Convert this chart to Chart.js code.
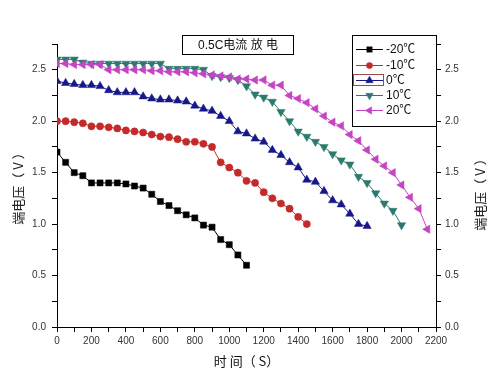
<!DOCTYPE html>
<html>
<head>
<meta charset="utf-8">
<script src="https://cdn.jsdelivr.net/npm/chart.js@4/dist/chart.umd.min.js"></script>
<style>
  html, body { margin: 0; padding: 0; background: #fff; }
  #wrap { width: 500px; height: 383px; }
</style>
</head>
<body>
<div id="wrap"><canvas id="dischargeChart" width="500" height="383"></canvas></div>
<script>
'use strict';

// time axis (s) shared by all series
var times = [0, 50, 100, 150, 200, 250, 300, 350, 400, 450, 500, 550, 600, 650, 700, 750,
  800, 850, 900, 950, 1000, 1050, 1100, 1150, 1200, 1250, 1300, 1350, 1400, 1450, 1500,
  1550, 1600, 1650, 1700, 1750, 1800, 1850, 1900, 1950, 2000, 2050, 2100, 2150];

// terminal voltage (V) per temperature
var voltM20 = [1.70, 1.60, 1.50, 1.47, 1.40, 1.40, 1.40, 1.40, 1.39, 1.37, 1.35, 1.29,
  1.22, 1.18, 1.13, 1.09, 1.06, 0.99, 0.97, 0.85, 0.80, 0.70, 0.60];
var voltM10 = [2.00, 2.00, 1.99, 1.98, 1.95, 1.95, 1.94, 1.93, 1.91, 1.90, 1.89, 1.87,
  1.85, 1.845, 1.825, 1.80, 1.80, 1.78, 1.75, 1.60, 1.55, 1.50, 1.42, 1.40, 1.31, 1.25,
  1.20, 1.15, 1.07, 1.00];
var volt0 = [2.39, 2.37, 2.36, 2.35, 2.35, 2.34, 2.30, 2.28, 2.28, 2.28, 2.24, 2.22,
  2.21, 2.21, 2.20, 2.19, 2.15, 2.12, 2.10, 2.05, 2.00, 1.90, 1.88, 1.83, 1.80, 1.72,
  1.67, 1.60, 1.55, 1.43, 1.41, 1.32, 1.23, 1.19, 1.10, 1.00, 0.98];
var voltP10 = [2.60, 2.60, 2.60, 2.57, 2.56, 2.56, 2.56, 2.56, 2.56, 2.56, 2.56, 2.56,
  2.56, 2.51, 2.51, 2.51, 2.51, 2.50, 2.44, 2.43, 2.42, 2.40, 2.34, 2.26, 2.23, 2.19,
  2.09, 2.00, 1.90, 1.85, 1.80, 1.75, 1.68, 1.62, 1.58, 1.46, 1.40, 1.30, 1.20, 1.13, 0.99];
var voltP20 = [2.56, 2.56, 2.55, 2.55, 2.55, 2.55, 2.50, 2.50, 2.50, 2.50, 2.50, 2.49,
  2.49, 2.48, 2.48, 2.48, 2.47, 2.46, 2.45, 2.44, 2.43, 2.41, 2.41, 2.40, 2.40, 2.35,
  2.35, 2.25, 2.22, 2.18, 2.12, 2.05, 1.99, 1.955, 1.87, 1.81, 1.72, 1.63, 1.565, 1.50,
  1.38, 1.26, 1.15, 0.95];

var seriesLabels = ['-20℃', '-10℃', '0℃', '10℃', '20℃'];
var seriesValues = [voltM20, voltM10, volt0, voltP10, voltP20];
var seriesColors = ['#000000', '#c42a2a', '#17178a', '#2c7a6e', '#c444c4'];
var seriesStyles = ['rect', 'circle', 'triangle', 'triangle', 'triangle'];
var seriesRotation = [0, 0, 0, 180, 270];
var seriesRadius = [4.3, 3.6, 4.8, 4.8, 4.8];

var chartTitle = '0.5C电流 放 电';
var xTitle = '时 间（ S）';
var yTitle = '端电压（ V ）';

function pairUp(vals) {
  var out = [];
  for (var i = 0; i < vals.length; i++) out.push({ x: times[i], y: vals[i] });
  return out;
}

var datasets = seriesValues.map(function (vals, i) {
  return {
    label: seriesLabels[i],
    data: pairUp(vals),
    borderColor: seriesColors[i],
    backgroundColor: seriesColors[i],
    borderWidth: 1,
    pointStyle: seriesStyles[i],
    rotation: seriesRotation[i],
    pointRadius: seriesRadius[i],
    pointBorderWidth: 0.5,
    pointBackgroundColor: seriesColors[i],
    pointBorderColor: seriesColors[i],
    tension: 0,
    order: 5 - i
  };
});

var CJK = '"Liberation Sans", Arial, "Noto Sans CJK SC", sans-serif';

function drawMarker(ctx, i, x, y) {
  var h = Chart.helpers;
  if (h && h.drawPoint) {
    ctx.fillStyle = seriesColors[i];
    ctx.strokeStyle = seriesColors[i];
    ctx.lineWidth = 0.5;
    h.drawPoint(ctx, { pointStyle: seriesStyles[i], rotation: seriesRotation[i], radius: seriesRadius[i] - 0.5, borderWidth: 0.5 }, x, y);
  }
}

var decorPlugin = {
  id: 'decor',
  afterDraw: function (chart) {
    var ctx = chart.ctx;
    var area = chart.chartArea;
    ctx.save();

    // title box
    ctx.fillStyle = '#fff';
    ctx.fillRect(182, 35, 111, 19);
    ctx.strokeStyle = '#000';
    ctx.lineWidth = 1;
    ctx.strokeRect(182.5, 35.5, 111, 19);
    ctx.fillStyle = '#111';
    ctx.font = '12px ' + CJK;
    ctx.textAlign = 'center';
    ctx.textBaseline = 'middle';
    ctx.fillText(chartTitle, 238, 45.5);

    // legend box
    ctx.fillStyle = '#fff';
    ctx.fillRect(352, 35, 84, 91);
    ctx.strokeStyle = '#000';
    ctx.strokeRect(352.5, 35.5, 84, 91);
    var rows = [49, 65, 80, 95, 110];
    for (var i = 0; i < rows.length; i++) {
      var y = rows[i];
      ctx.strokeStyle = seriesColors[i];
      ctx.lineWidth = 1;
      ctx.beginPath();
      ctx.moveTo(356, y + 0.5);
      ctx.lineTo(383, y + 0.5);
      ctx.stroke();
      drawMarker(ctx, i, 369.5, y + 0.5);
      ctx.fillStyle = '#111';
      ctx.font = '12px ' + CJK;
      ctx.textAlign = 'left';
      ctx.textBaseline = 'middle';
      ctx.fillText(seriesLabels[i], 386, y + 1);
    }
    // selection frame around the 0℃ symbol
    ctx.strokeStyle = '#9a4a4a';
    ctx.lineWidth = 1;
    ctx.strokeRect(353.5, 74.5, 30, 11);

    // right axis title, same reading direction as the left one
    ctx.translate(480, (area.top + area.bottom) / 2 + 6);
    ctx.rotate(-Math.PI / 2);
    ctx.fillStyle = '#222';
    ctx.font = '13px "Noto Sans CJK SC", sans-serif';
    ctx.textAlign = 'center';
    ctx.textBaseline = 'middle';
    ctx.fillText(yTitle, 0, 0);
    ctx.restore();
  }
};

function halfStepLabel(v) {
  return Math.abs(v * 2 - Math.round(v * 2)) < 1e-6 ? v.toFixed(1) : '';
}

var tickFont = { family: '"Liberation Sans", Arial, sans-serif', size: 10 };
var axisGrid = { drawOnChartArea: false, drawTicks: true, tickLength: 5, tickColor: '#000', tickWidth: 1 };
var axisBorder = { display: true, color: '#000', width: 1 };

new Chart(document.getElementById('dischargeChart'), {
  type: 'line',
  data: { datasets: datasets },
  options: {
    responsive: false,
    animation: false,
    layout: { padding: { left: 8, right: 0, top: 44, bottom: 10 } },
    plugins: { legend: { display: false }, tooltip: { enabled: false } },
    scales: {
      x: {
        type: 'linear',
        min: 0,
        max: 2200,
        grid: axisGrid,
        border: axisBorder,
        ticks: {
          stepSize: 100,
          autoSkip: false,
          maxRotation: 0,
          padding: 3,
          color: '#333',
          font: tickFont,
          callback: function (v) { return v % 200 === 0 ? String(v) : ''; }
        },
        title: {
          display: true,
          text: xTitle,
          color: '#111',
          font: { family: '"Noto Sans CJK SC", sans-serif', size: 13 },
          padding: { top: 4, bottom: 4 }
        },
        afterFit: function (s) { s.height = 46; }
      },
      y: {
        position: 'left',
        min: 0,
        max: 2.75,
        grid: axisGrid,
        border: axisBorder,
        ticks: {
          stepSize: 0.25,
          autoSkip: false,
          padding: 6,
          color: '#333',
          font: tickFont,
          callback: halfStepLabel
        },
        title: {
          display: true,
          text: yTitle,
          color: '#222',
          font: { family: '"Noto Sans CJK SC", sans-serif', size: 13 },
          padding: { top: 2, bottom: 2 }
        },
        afterFit: function (s) { s.width = 49; }
      },
      y2: {
        position: 'right',
        min: 0,
        max: 2.75,
        grid: axisGrid,
        border: axisBorder,
        ticks: {
          stepSize: 0.25,
          autoSkip: false,
          padding: 4,
          color: '#333',
          font: tickFont,
          callback: halfStepLabel
        },
        afterFit: function (s) { s.width = 64; }
      }
    }
  },
  plugins: [decorPlugin]
});
</script>
</body>
</html>
